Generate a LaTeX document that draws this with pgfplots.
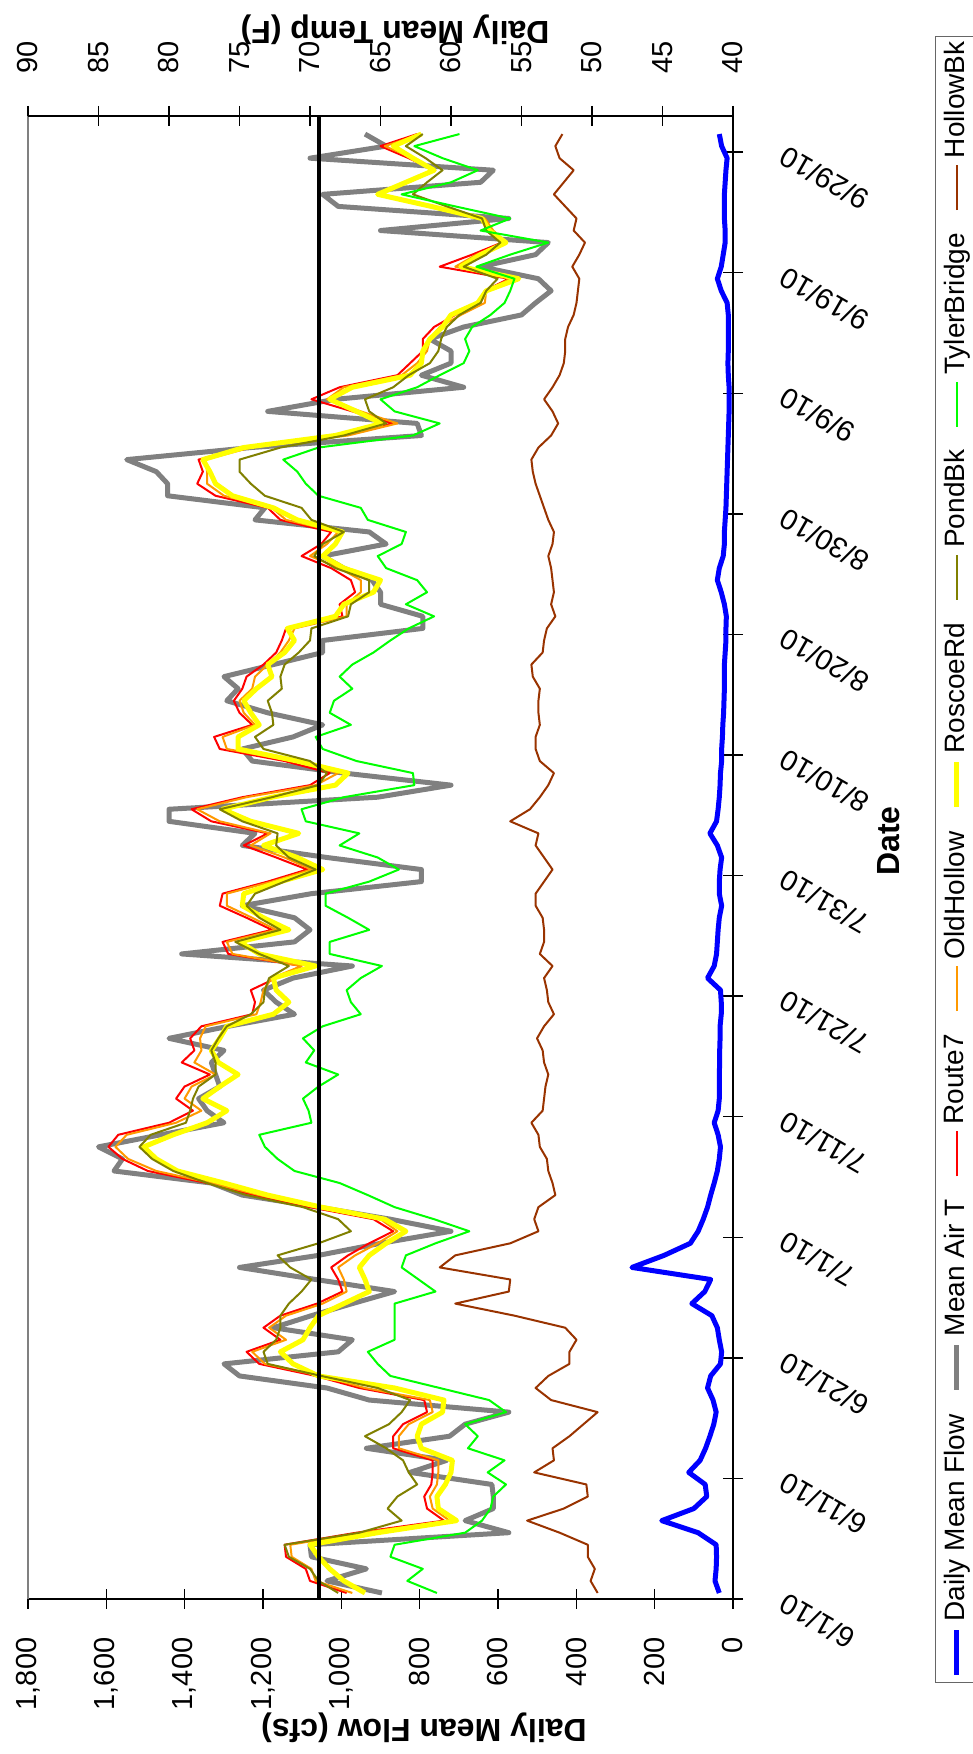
\documentclass[border=0pt]{standalone}
\usepackage{fontspec}
\setmainfont{Liberation Sans}
\usepackage{pgfplots}
\usepackage{pgfplotstable}
\pgfplotsset{compat=1.18}
\definecolor{cblue}{RGB}{0,0,255}
\definecolor{cgray}{RGB}{128,128,128}
\definecolor{cred}{RGB}{255,0,0}
\definecolor{corange}{RGB}{255,153,0}
\definecolor{cyellow}{RGB}{255,255,0}
\definecolor{colive}{RGB}{128,128,0}
\definecolor{cgreen}{RGB}{0,255,0}
\definecolor{cbrown}{RGB}{153,51,0}

\pgfplotstableread{
x flow air r7 oh rr pb tb hb
0.5 35 64.9 67.4 67.0 66.1 68.0 61.0 49.6
1.5 46 68.8 70.0 69.6 67.6 69.4 63.1 50.1
2.5 43 66.0 70.3 69.9 68.6 70.0 62.0 49.8
3.5 42 69.9 71.7 71.3 69.4 71.5 64.3 50.3
4.5 43 70.0 71.8 71.4 70.0 71.8 64.0 50.3
5.5 89 55.9 66.7 66.3 65.2 66.5 59.0 52.3
6.5 182 59.0 60.5 60.1 59.6 63.5 57.8 54.6
7.5 100 57.0 61.7 61.3 60.9 64.5 57.2 52.0
8.5 67 57.0 61.9 61.5 61.0 63.8 57.0 50.3
9.5 71 57.1 61.4 61.0 60.4 62.4 56.1 50.4
10.5 113 62.9 61.3 60.9 60.0 63.0 57.4 54.1
11.5 84 60.3 61.3 60.9 59.9 63.4 56.2 52.7
12.5 70 66.0 64.1 63.7 62.1 64.6 58.8 52.8
13.5 59 60.1 64.1 63.7 62.4 66.1 58.1 51.6
14.5 49 59.0 63.4 63.0 62.1 64.4 59.0 50.6
15.5 43 55.9 61.7 61.3 60.6 63.5 56.1 49.6
16.5 51 65.8 61.9 61.5 60.5 62.9 57.3 52.9
17.5 65 68.8 66.5 66.1 64.0 65.2 60.8 54.0
18.5 57 75.0 69.6 69.2 69.4 69.2 64.3 53.1
19.5 32 76.1 73.6 73.2 71.2 73.0 65.2 51.6
20.5 29 68.0 74.5 74.1 72.1 73.3 65.9 51.6
21.5 35 67.0 72.1 71.7 70.5 72.4 64.0 51.1
22.5 40 72.6 73.3 72.9 70.0 72.1 64.0 51.9
23.5 54 69.9 72.1 71.7 69.4 72.1 64.0 55.5
24.5 105 67.0 69.5 69.1 67.6 71.5 64.0 59.7
25.5 72 64.0 67.7 67.4 65.8 70.6 61.1 55.9
26.5 57 69.6 68.0 67.6 66.1 69.9 62.3 55.8
27.5 258 75.0 68.5 68.0 66.5 71.4 63.5 60.8
28.5 176 69.4 67.3 66.8 65.8 72.3 63.2 59.7
29.5 109 65.0 65.8 65.2 64.6 69.4 61.1 55.8
30.5 89 60.0 64.1 63.8 63.2 67.1 58.7 53.8
31.5 76 64.3 65.5 65.0 64.7 68.0 61.2 54.1
32.5 65 69.4 70.0 69.6 69.2 70.5 64.0 53.8
33.5 57 74.8 73.9 73.6 73.0 74.5 65.9 52.6
34.5 48 77.0 77.3 77.0 76.1 77.3 67.9 52.8
35.5 40 83.9 81.5 80.9 79.4 79.7 71.1 53.1
36.5 35 83.3 83.3 82.9 80.9 81.2 72.3 53.2
37.5 32 85.0 84.3 83.8 81.8 82.1 73.2 53.7
38.5 38 80.6 83.6 83.0 79.7 81.3 73.6 53.8
39.5 48 76.1 80.0 79.5 77.3 78.8 69.9 54.3
40.5 38 77.3 78.3 77.7 75.9 78.5 70.1 53.5
41.5 35 77.9 79.5 78.9 77.6 78.3 70.5 53.4
42.5 35 76.4 78.9 78.4 76.4 77.9 69.4 53.3
43.5 35 76.7 77.1 76.7 75.1 76.7 68.0 53.1
44.5 34 77.0 79.1 78.2 76.5 76.7 70.3 53.4
45.5 34 76.1 78.2 77.7 77.0 77.0 69.7 53.5
46.5 33 80.0 78.5 77.8 76.4 76.5 70.5 53.9
47.5 33 75.8 77.7 77.4 75.9 75.9 69.1 53.4
48.5 30 71.1 74.1 73.8 72.6 74.2 66.4 52.7
49.5 30 72.4 73.9 73.5 71.5 73.3 67.1 53.1
50.5 32 73.3 74.2 73.3 72.4 73.2 67.4 53.2
51.5 65 71.2 72.4 72.7 72.6 72.9 66.4 53.4
52.5 48 67.0 70.6 70.6 69.6 71.5 64.9 52.8
53.5 42 79.1 75.8 75.5 73.6 73.6 68.6 53.7
54.5 40 71.1 76.2 75.9 75.0 75.3 68.6 53.4
55.5 38 70.0 72.7 72.4 71.5 72.1 65.8 53.4
56.5 35 71.1 74.5 74.1 73.3 73.6 67.3 53.5
57.5 29 74.8 76.4 75.9 74.8 74.5 68.9 54.0
58.5 35 69.9 76.2 75.9 74.7 73.9 68.9 54.0
59.5 35 62.1 73.0 72.7 72.1 71.8 65.8 53.4
60.5 33 62.1 70.2 69.9 69.1 69.6 63.7 52.8
61.5 29 68.8 72.4 71.8 70.9 71.5 65.2 53.4
62.5 40 74.8 74.7 74.2 73.3 72.4 67.9 54.0
63.5 59 73.9 73.0 72.8 70.8 72.3 66.5 53.8
64.5 42 80.0 77.0 76.4 74.2 74.8 70.3 55.8
65.5 38 80.0 78.4 78.0 76.2 76.4 70.6 54.4
66.5 35 65.2 74.8 74.5 72.7 72.7 67.6 53.7
67.5 33 60.0 70.0 69.6 68.2 69.4 62.6 53.1
68.5 32 67.6 68.6 68.0 67.3 68.8 62.7 52.7
69.5 29 74.1 71.8 71.2 70.9 70.0 66.7 53.7
70.5 29 74.8 76.4 75.9 75.1 73.3 69.1 54.0
71.5 27 71.2 76.8 76.2 75.1 73.9 69.6 54.0
72.5 26 69.1 74.1 73.9 73.6 72.6 67.1 53.7
73.5 24 73.0 75.0 74.7 74.2 72.7 68.6 53.8
74.5 23 75.9 75.4 75.0 74.7 73.0 68.3 53.8
75.5 22 75.1 74.8 74.1 73.8 72.0 67.0 53.7
76.5 22 76.1 74.5 73.9 72.7 72.1 67.9 54.2
77.5 22 72.6 73.3 73.0 73.0 71.8 67.0 54.3
78.5 20 69.1 72.4 72.1 71.8 70.8 65.5 53.5
79.5 18 69.1 72.0 71.5 71.1 70.0 64.3 53.4
80.5 18 62.0 71.7 71.1 71.6 69.9 63.0 53.2
81.5 17 62.0 67.7 67.4 68.2 67.3 61.2 52.6
82.5 22 65.0 67.9 67.4 67.6 67.1 63.2 52.9
83.5 30 65.0 66.8 66.4 65.5 65.8 61.7 52.7
84.5 40 65.6 67.1 66.4 65.0 65.8 62.4 52.8
85.5 35 67.6 68.5 67.9 67.6 68.2 64.6 52.9
86.5 25 69.1 70.6 70.0 69.1 69.7 65.2 53.1
87.5 22 64.6 69.2 68.8 68.2 69.1 63.5 52.8
88.5 22 65.8 68.5 68.0 67.7 67.6 63.2 52.7
89.5 20 73.9 72.1 71.7 70.9 69.9 65.9 53.1
90.5 18 73.2 73.0 72.7 72.6 70.6 66.4 53.4
91.5 17 80.1 76.7 76.1 75.5 73.2 69.4 53.7
92.5 16 80.1 78.0 77.3 76.7 74.2 70.3 54.0
93.5 15 80.9 77.6 77.3 77.1 75.0 70.9 54.2
94.5 14 83.0 77.9 77.4 77.6 75.0 71.9 54.3
95.5 13 74.2 74.8 74.2 74.7 72.1 69.4 53.8
96.5 12 62.1 67.6 67.3 68.2 67.6 62.7 52.9
97.5 11 62.4 64.1 63.8 64.9 64.6 60.8 52.4
98.5 10 73.0 67.0 66.4 66.7 65.8 64.0 52.8
99.5 10 68.2 69.9 68.8 68.6 66.1 65.0 53.4
100.5 10 59.1 67.9 67.6 67.0 64.1 62.4 52.8
101.5 12 62.1 63.8 63.5 62.9 63.0 60.8 52.3
102.5 13 60.0 62.9 62.4 62.1 61.5 59.1 52.0
103.5 12 60.0 62.0 61.7 62.0 60.9 58.7 51.9
104.5 12 61.5 62.0 61.5 61.5 60.7 59.0 51.9
105.5 12 59.1 61.2 60.8 60.6 60.3 58.5 51.7
106.5 12 55.0 59.7 59.3 60.0 59.4 57.2 51.3
107.5 15 54.0 57.9 57.6 58.1 57.9 56.2 51.1
108.5 30 52.9 57.6 57.5 57.5 57.5 55.8 51.0
109.5 40 53.8 55.9 55.8 55.2 56.7 55.5 50.9
110.5 30 57.9 60.8 59.7 59.3 59.1 58.2 51.4
111.5 25 54.0 58.5 58.2 57.9 57.5 55.8 50.9
112.5 20 53.1 56.4 56.1 56.1 56.5 53.1 50.5
113.5 20 65.0 57.3 57.0 57.3 57.5 57.9 51.3
114.5 22 55.9 57.8 57.6 57.8 57.8 55.8 51.1
115.5 22 68.0 61.5 61.2 61.4 60.3 59.7 51.9
116.5 22 69.1 65.2 65.0 65.2 62.7 63.5 52.7
117.5 20 57.9 63.2 63.0 63.2 61.7 60.0 52.0
118.5 18 57.0 61.2 61.1 61.2 60.6 58.1 51.3
119.5 15 70.0 63.0 62.7 62.7 61.8 60.6 52.3
120.5 29 64.6 65.0 64.7 64.1 63.2 62.6 52.6
121.5 35 66.1 62.4 62.1 62.1 62.0 59.4 52.1
}\data

\pgfplotsset{
  common/.style={
    scale only axis, width=444.9pt, height=211.5pt,
    xmin=0, xmax=123,
    tick align=center, major tick length=6pt,
    every tick/.style={black, line width=0.4pt},
    axis line style={black, line width=0.6pt},
    tick label style={font=\fontsize{8.7}{10}\selectfont},
    /pgf/number format/assume math mode=true,
  },
}

\begin{document}
\begin{tikzpicture}[rotate=90, transform shape]
\begin{axis}[common,
  ymin=0, ymax=1800, ytick={0,200,...,1800},
  axis x line*=bottom, axis y line*=left,
  xtick={0,10,...,120},
  xticklabels={6/1/10,6/11/10,6/21/10,7/1/10,7/11/10,7/21/10,7/31/10,8/10/10,8/20/10,8/30/10,9/9/10,9/19/10,9/29/10},
  xticklabel style={xshift=-3.5pt, yshift=-10pt, rotate=60, anchor=north east, inner sep=0pt},
  yticklabel style={anchor=east, inner sep=0pt, xshift=-8.4pt, /pgf/number format/1000 sep={,}},
  xlabel={Date},
  every axis x label/.style={at={(axis description cs:0.5111,-0.2213)}, anchor=center, font=\bfseries\fontsize{9.6}{11}\selectfont},
  ylabel={Daily Mean Flow (cfs)},
  every axis y label/.style={at={(axis description cs:-0.0870,0.4383)}, anchor=center, rotate=90, font=\bfseries\fontsize{9.6}{11}\selectfont},
]
\addplot[cblue, line width=1.5pt, line join=round, no markers] table[x=x, y=flow] {\data};
\end{axis}
\begin{axis}[common,
  ymin=40, ymax=90, ytick={40,45,...,90},
  axis y line*=right, axis x line*=top, xtick=\empty,
  x axis line style={draw=gray, line width=0.4pt},
  yticklabel style={anchor=west, inner sep=0pt, xshift=9.5pt},
  ylabel={Daily Mean Temp (F)},
  every axis y label/.style={at={(axis description cs:1.0580,0.4794)}, anchor=center, rotate=90, font=\bfseries\fontsize{9.6}{11}\selectfont},
  legend columns=-1,
  legend image code/.code={\draw[#1] (0pt,0pt) -- (13.5pt,0pt);},
  legend style={at={(axis description cs:-0.0566,-0.2865)}, anchor=north west,
    draw=gray!80!black, line width=0.4pt, font=\fontsize{8.4}{10}\selectfont,
    inner xsep=1.5pt, inner ysep=2.5pt,
    nodes={inner sep=0pt},
    column sep=0pt,
    /tikz/every odd column/.append style={column sep=1.8pt},
    /tikz/every even column/.append style={column sep=6.6pt}},
]
\addlegendimage{cblue, line width=1.5pt}
\addlegendentry{Daily Mean Flow}
\addplot[cgray, line width=1.5pt, line join=round, no markers] table[x=x, y=air] {\data};
\addlegendentry{Mean Air T}
\addplot[cred, line width=0.6pt, line join=round, no markers] table[x=x, y=r7] {\data};
\addlegendentry{Route7}
\addplot[corange, line width=0.6pt, line join=round, no markers] table[x=x, y=oh] {\data};
\addlegendentry{OldHollow}
\addplot[cyellow, line width=1.5pt, line join=round, no markers] table[x=x, y=rr] {\data};
\addlegendentry{RoscoeRd}
\addplot[colive, line width=0.6pt, line join=round, no markers] table[x=x, y=pb] {\data};
\addlegendentry{PondBk}
\addplot[cgreen, line width=0.6pt, line join=round, no markers] table[x=x, y=tb] {\data};
\addlegendentry{TylerBridge}
\addplot[cbrown, line width=0.6pt, line join=round, no markers] table[x=x, y=hb] {\data};
\addlegendentry{HollowBk}
\addplot[black, line width=1.2pt, forget plot] coordinates {(0,69.37) (123,69.37)};
\end{axis}
\pgfresetboundingbox
\path[use as bounding box] (-46.5pt,-71.7pt) rectangle (479.7pt,219.9pt);
\end{tikzpicture}
\end{document}
